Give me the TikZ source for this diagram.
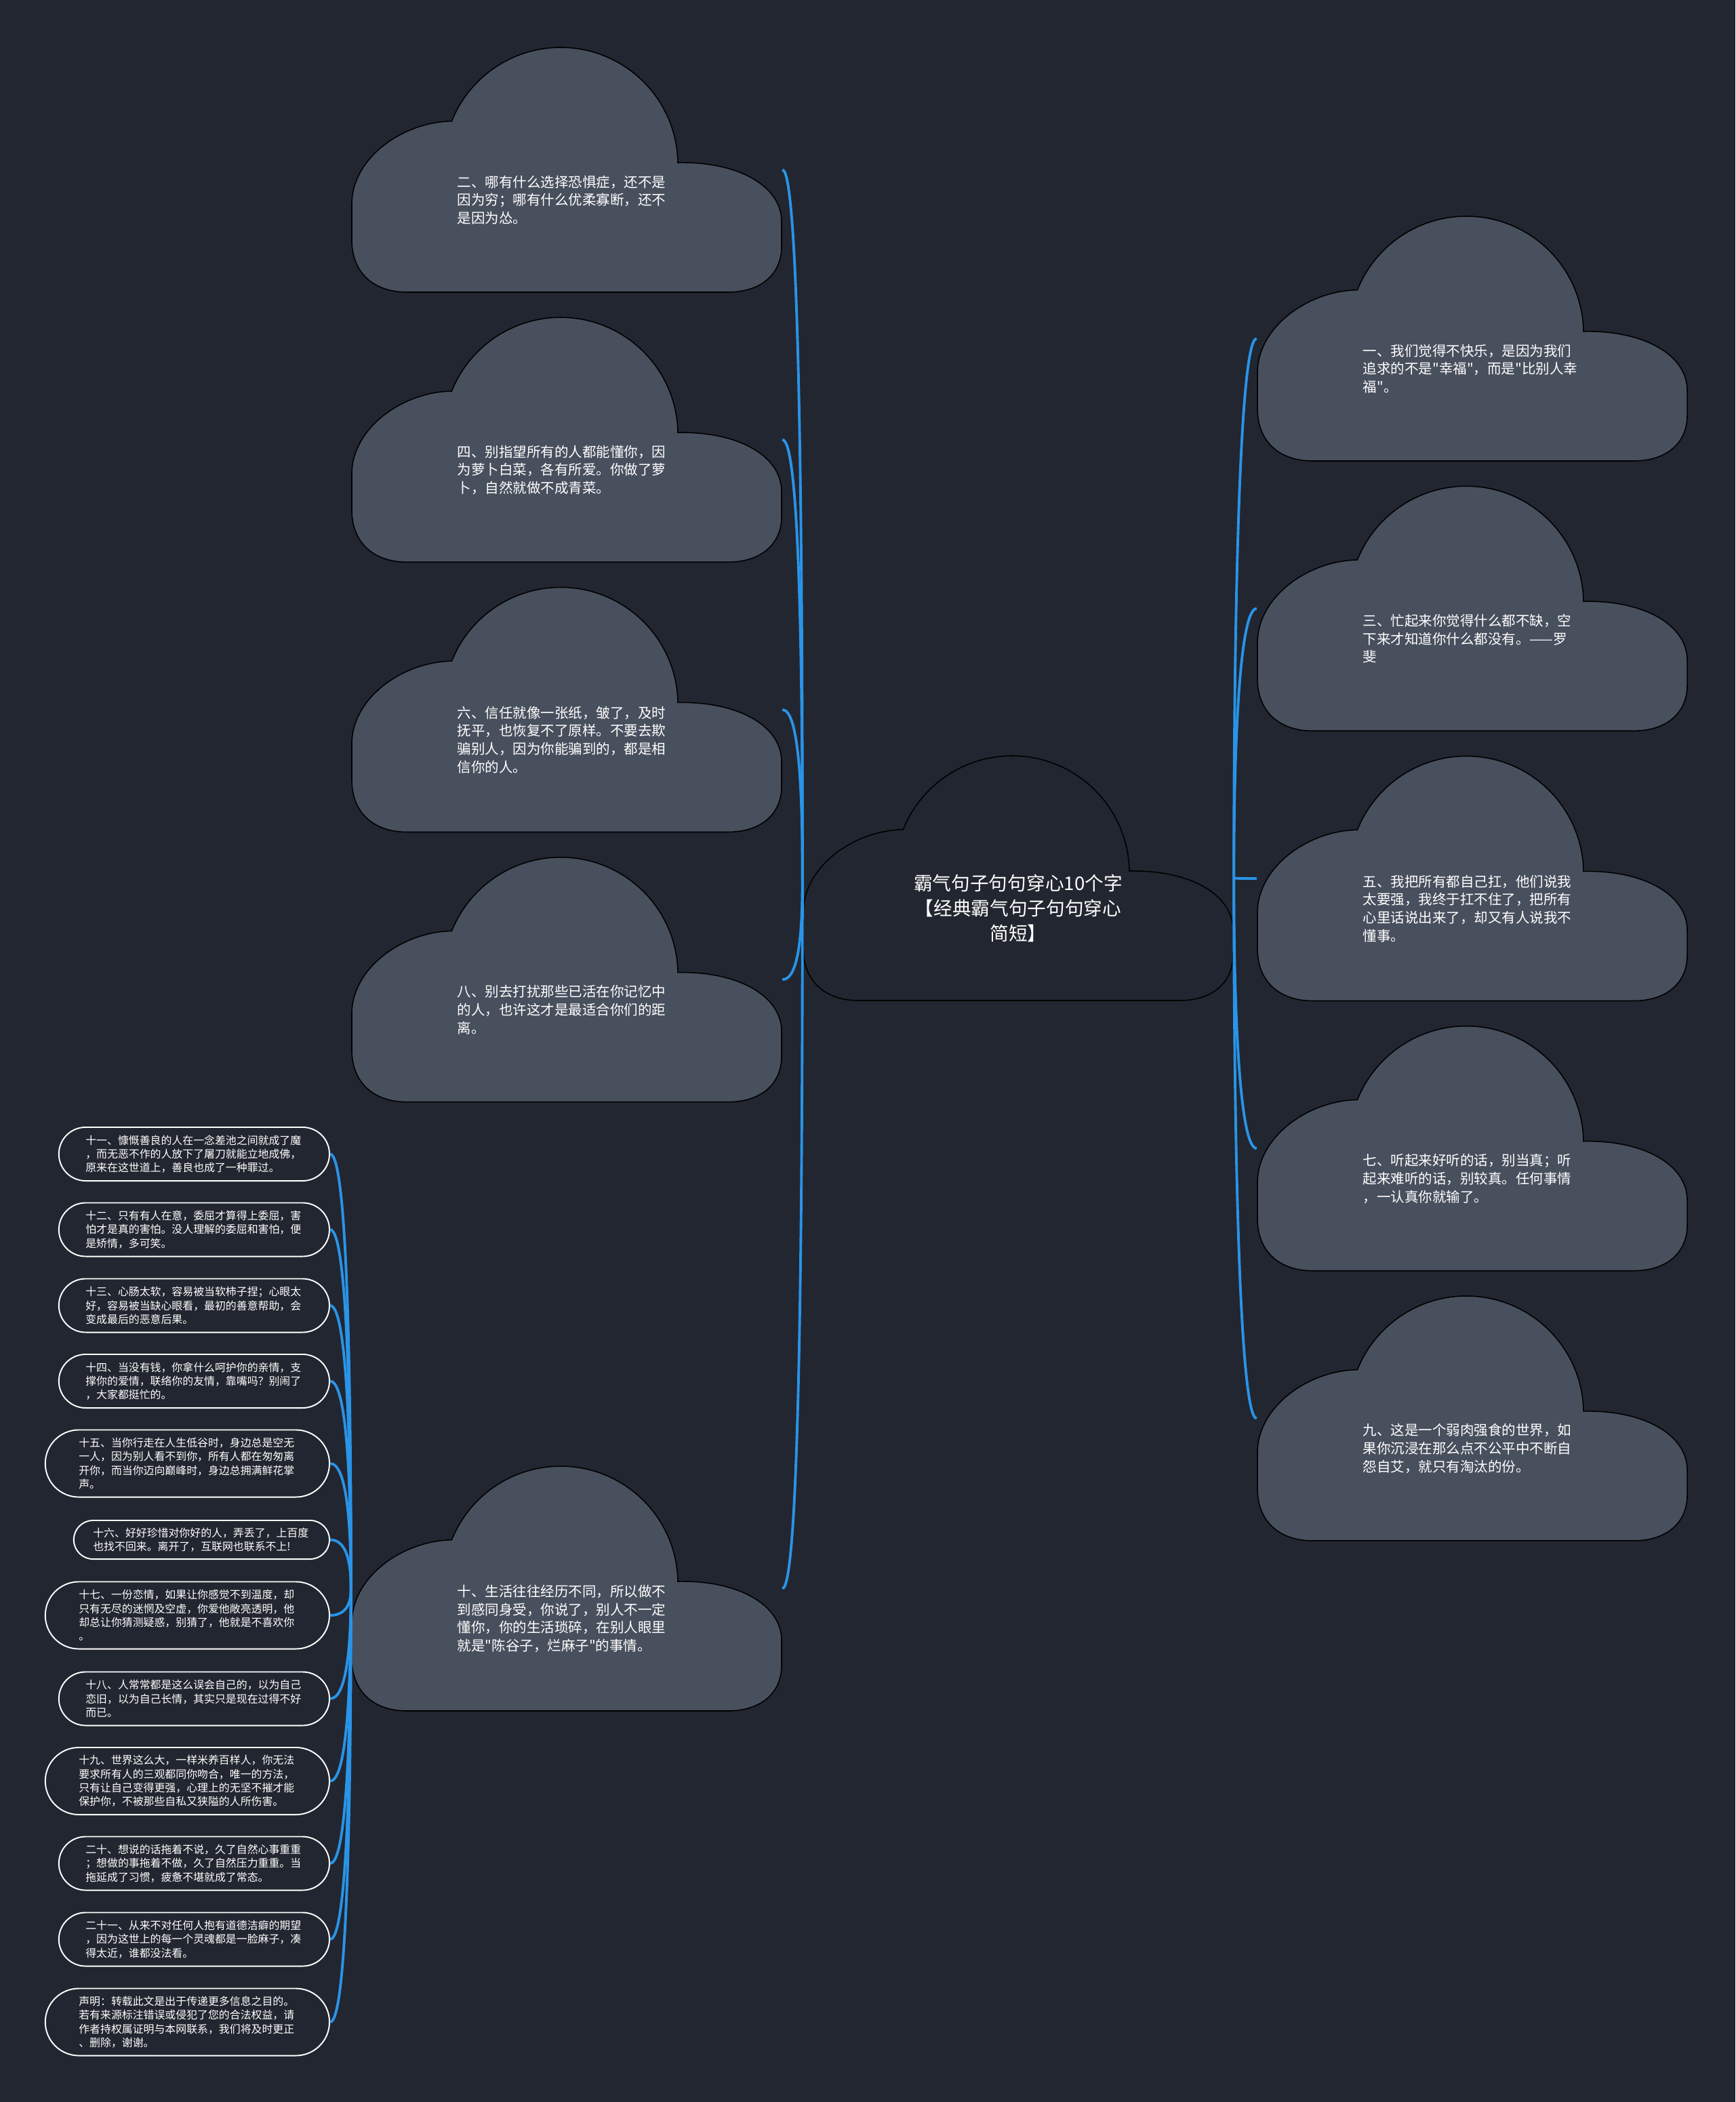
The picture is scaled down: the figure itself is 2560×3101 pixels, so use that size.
\documentclass[tikz,border=0pt]{standalone}
\usepackage{fontspec}
\setmainfont{Noto Sans CJK SC}[Ligatures=TeXOff]
\usepackage{tikz}
\usetikzlibrary{calc, positioning}
\usepackage{xcolor}
\definecolor{bgcol}{RGB}{34,38,48}
\definecolor{cloudcol}{RGB}{72,79,93}
\definecolor{linkcol}{RGB}{41,148,232}

\begin{document}
\begin{tikzpicture}[x=0.01cm, y=-0.01cm, node distance=0.35cm,
  cloudbox/.style={minimum width=6.36cm, minimum height=3.63cm, inner sep=0pt, outer sep=0pt,
    path picture={\draw[fill=#1, draw=black, line width=0.45pt]
      (-236,180.5) -- (238,180.5) .. controls (287,180.5) and (317,153.5) .. (317,113.5) -- (317,76.5)
      .. controls (317,23.5) and (252,-12.5) .. (164,-10.5) arc[start angle=-1, end angle=-158.2, radius=173]
      .. controls (-243,-70.5) and (-317,-16.5) .. (-317,50.5) -- (-317,103.5) .. controls (-317,153.5) and (-283,180.5) .. (-236,180.5) -- cycle;}},
  cloudbox/.default=cloudcol,
  leaf/.style={text width=3.08cm, align=left, inner sep=0pt, text=white, xshift=-0.07cm, yshift=-0.445cm, font=\fontsize{5.83pt}{7.6pt}\selectfont},
  pill/.style={rectangle, rounded corners=#1, minimum height=2*#1, inner xsep=#1, inner ysep=0pt, draw=white, line width=0.55pt, fill=bgcol, text=white, text width=3.2cm, align=left, anchor=east, font=\fontsize{4.52pt}{5.77pt}\selectfont},
  pill/.default=0.395cm,
  branch/.style={draw=linkcol, line width=1.1pt, to path={.. controls ($(\tikztostart)!0.5!(\tikztostart |- \tikztotarget)$) and ($(\tikztotarget)!0.25cm!(\tikztostart |- \tikztotarget)$) .. (\tikztotarget)}}]
  \fill[bgcol] (0,0) rectangle (2560,3101);

  \node[cloudbox=bgcol] (root) at (1502,1295.5) {};
  \node[text=white, align=center, inner sep=0pt, yshift=-0.445cm, font=\fontsize{7.87pt}{10.5pt}\selectfont] (title) at (root) {霸气句子句句穿心10个字\\【经典霸气句子句句穿心\\简短】};

  \node[cloudbox] (c2) at (836,250.5) {};
  \node[cloudbox] (c4) [below=of c2] {};
  \node[cloudbox] (c6) [below=of c4] {};
  \node[cloudbox] (c8) [below=of c6] {};
  \node[cloudbox] (c10) at (836,2343.5) {};
  \node[leaf] (t2) at (c2) {二、哪有什么选择恐惧症，还不是\\因为穷；哪有什么优柔寡断，还不\\是因为怂。};
  \node[leaf] (t4) at (c4) {四、别指望所有的人都能懂你，因\\为萝卜白菜，各有所爱。你做了萝\\卜，自然就做不成青菜。};
  \node[leaf] (t6) at (c6) {六、信任就像一张纸，皱了，及时\\抚平，也恢复不了原样。不要去欺\\骗别人，因为你能骗到的，都是相\\信你的人。};
  \node[leaf] (t8) at (c8) {八、别去打扰那些已活在你记忆中\\的人，也许这才是最适合你们的距\\离。};
  \node[leaf] (t10) at (c10) {十、生活往往经历不同，所以做不\\到感同身受，你说了，别人不一定\\懂你，你的生活琐碎，在别人眼里\\就是"陈谷子，烂麻子"的事情。};

  \node[cloudbox] (c1) at (2172,499.5) {};
  \node[cloudbox] (c3) [below=of c1] {};
  \node[cloudbox] (c5) [below=of c3] {};
  \node[cloudbox] (c7) [below=of c5] {};
  \node[cloudbox] (c9) [below=of c7] {};
  \node[leaf] (t1) at (c1) {一、我们觉得不快乐，是因为我们\\追求的不是"幸福"，而是"比别人幸\\福"。};
  \node[leaf] (t3) at (c3) {三、忙起来你觉得什么都不缺，空\\下来才知道你什么都没有。——罗\\斐};
  \node[leaf] (t5) at (c5) {五、我把所有都自己扛，他们说我\\太要强，我终于扛不住了，把所有\\心里话说出来了，却又有人说我不\\懂事。};
  \node[leaf] (t7) at (c7) {七、听起来好听的话，别当真；听\\起来难听的话，别较真。任何事情\\，一认真你就输了。};
  \node[leaf] (t9) at (c9) {九、这是一个弱肉强食的世界，如\\果你沉浸在那么点不公平中不断自\\怨自艾，就只有淘汰的份。};

  \node[pill] (p11) at (487,1702.5) {十一、慷慨善良的人在一念差池之间就成了魔\\，而无恶不作的人放下了屠刀就能立地成佛，\\原来在这世道上，善良也成了一种罪过。};
  \node[pill] (p12) at (487,1814) {十二、只有有人在意，委屈才算得上委屈，害\\怕才是真的害怕。没人理解的委屈和害怕，便\\是矫情，多可笑。};
  \node[pill] (p13) at (487,1926) {十三、心肠太软，容易被当软柿子捏；心眼太\\好，容易被当缺心眼看，最初的善意帮助，会\\变成最后的恶意后果。};
  \node[pill] (p14) at (487,2037.5) {十四、当没有钱，你拿什么呵护你的亲情，支\\撑你的爱情，联络你的友情，靠嘴吗？别闹了\\，大家都挺忙的。};
  \node[pill=0.495cm] (p15) at (487,2159) {十五、当你行走在人生低谷时，身边总是空无\\一人，因为别人看不到你，所有人都在匆匆离\\开你，而当你迈向巅峰时，身边总拥满鲜花掌\\声。};
  \node[pill=0.285cm] (p16) at (487,2271.5) {十六、好好珍惜对你好的人，弄丢了，上百度\\也找不回来。离开了，互联网也联系不上!};
  \node[pill=0.495cm] (p17) at (487,2383) {十七、一份恋情，如果让你感觉不到温度，却\\只有无尽的迷惘及空虚，你爱他敞亮透明，他\\却总让你猜测疑惑，别猜了，他就是不喜欢你\\。};
  \node[pill] (p18) at (487,2506) {十八、人常常都是这么误会自己的，以为自己\\恋旧，以为自己长情，其实只是现在过得不好\\而已。};
  \node[pill=0.495cm] (p19) at (487,2627.5) {十九、世界这么大，一样米养百样人，你无法\\要求所有人的三观都同你吻合，唯一的方法，\\只有让自己变得更强，心理上的无坚不摧才能\\保护你，不被那些自私又狭隘的人所伤害。};
  \node[pill] (p20) at (487,2749) {二十、想说的话拖着不说，久了自然心事重重\\；想做的事拖着不做，久了自然压力重重。当\\拖延成了习惯，疲惫不堪就成了常态。};
  \node[pill] (p21) at (487,2861) {二十一、从来不对任何人抱有道德洁癖的期望\\，因为这世上的每一个灵魂都是一脸麻子，凑\\得太近，谁都没法看。};
  \node[pill=0.495cm] (note) at (487,2983) {声明：转载此文是出于传递更多信息之目的。\\若有来源标注错误或侵犯了您的合法权益，请\\作者持权属证明与本网联系，我们将及时更正\\、删除，谢谢。};

  \draw[branch] (root.west) to (c2.east);
  \draw[branch] (root.west) to (c4.east);
  \draw[branch] (root.west) to (c6.east);
  \draw[branch] (root.west) to (c8.east);
  \draw[branch] (root.west) to (c10.east);
  \draw[branch] (root.east) to (c1.west);
  \draw[branch] (root.east) to (c3.west);
  \draw[branch] (root.east) to (c5.west);
  \draw[branch] (root.east) to (c7.west);
  \draw[branch] (root.east) to (c9.west);
  \draw[branch] (c10.west) to (p11.east);
  \draw[branch] (c10.west) to (p12.east);
  \draw[branch] (c10.west) to (p13.east);
  \draw[branch] (c10.west) to (p14.east);
  \draw[branch] (c10.west) to (p15.east);
  \draw[branch] (c10.west) to (p16.east);
  \draw[branch] (c10.west) to (p17.east);
  \draw[branch] (c10.west) to (p18.east);
  \draw[branch] (c10.west) to (p19.east);
  \draw[branch] (c10.west) to (p20.east);
  \draw[branch] (c10.west) to (p21.east);
  \draw[branch] (c10.west) to (note.east);
\end{tikzpicture}
\end{document}
